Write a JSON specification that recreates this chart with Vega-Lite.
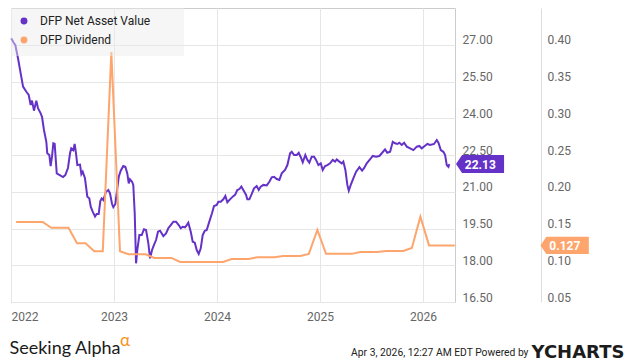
{
  "$schema": "https://vega.github.io/schema/vega-lite/v6.json",
  "width": 444,
  "height": 294,
  "autosize": {"type": "none"},
  "padding": {"left": 11, "top": 8, "right": 180, "bottom": 62},
  "background": "white",
  "title": {"text": "α", "orient": "top", "anchor": "start", "frame": "group", "offset": 0, "dx": 109, "dy": 355, "baseline": "alphabetic", "font": "Lato", "fontSize": 17, "fontWeight": "normal", "color": "#f7931e"},
  "config": {
    "view": {"stroke": "#cccccc", "strokeWidth": 1},
    "axis": {"labelFont": "Roboto", "labelFontSize": 12, "labelColor": "#666666", "gridColor": "#e6e6e6", "ticks": false, "tickSize": 0, "domain": false}
  },
  "datasets": {
    "nav": [
      {"year": 2022.003, "nav": 27.26}, {"year": 2022.029, "nav": 27.06}, {"year": 2022.042, "nav": 26.99}, {"year": 2022.068, "nav": 26.45},
      {"year": 2022.094, "nav": 25.83}, {"year": 2022.117, "nav": 25.29}, {"year": 2022.149, "nav": 25.08}, {"year": 2022.172, "nav": 24.95},
      {"year": 2022.191, "nav": 24.54}, {"year": 2022.204, "nav": 24.72}, {"year": 2022.223, "nav": 24.31}, {"year": 2022.246, "nav": 24.72},
      {"year": 2022.262, "nav": 24.41}, {"year": 2022.288, "nav": 24.20}, {"year": 2022.301, "nav": 24.06}, {"year": 2022.320, "nav": 23.52},
      {"year": 2022.343, "nav": 23.04}, {"year": 2022.352, "nav": 22.57}, {"year": 2022.372, "nav": 22.50}, {"year": 2022.385, "nav": 22.05},
      {"year": 2022.398, "nav": 22.43}, {"year": 2022.411, "nav": 22.98}, {"year": 2022.424, "nav": 22.95}, {"year": 2022.444, "nav": 21.75},
      {"year": 2022.473, "nav": 21.68}, {"year": 2022.505, "nav": 21.60}, {"year": 2022.527, "nav": 21.68}, {"year": 2022.553, "nav": 21.97},
      {"year": 2022.573, "nav": 22.57}, {"year": 2022.585, "nav": 22.77}, {"year": 2022.605, "nav": 22.70}, {"year": 2022.618, "nav": 22.95},
      {"year": 2022.631, "nav": 22.57}, {"year": 2022.644, "nav": 22.09}, {"year": 2022.670, "nav": 22.11}, {"year": 2022.683, "nav": 21.72},
      {"year": 2022.696, "nav": 21.82}, {"year": 2022.718, "nav": 21.55}, {"year": 2022.741, "nav": 20.80}, {"year": 2022.760, "nav": 20.73},
      {"year": 2022.774, "nav": 20.39}, {"year": 2022.793, "nav": 20.19}, {"year": 2022.816, "nav": 19.99}, {"year": 2022.832, "nav": 20.09},
      {"year": 2022.851, "nav": 20.09}, {"year": 2022.867, "nav": 20.62}, {"year": 2022.881, "nav": 20.73}, {"year": 2022.896, "nav": 20.66},
      {"year": 2022.922, "nav": 21.00}, {"year": 2022.945, "nav": 21.07}, {"year": 2022.961, "nav": 20.94}, {"year": 2022.981, "nav": 20.50},
      {"year": 2022.993, "nav": 20.37}, {"year": 2023.013, "nav": 20.50}, {"year": 2023.026, "nav": 20.94}, {"year": 2023.046, "nav": 21.61},
      {"year": 2023.065, "nav": 21.86}, {"year": 2023.090, "nav": 22.05}, {"year": 2023.110, "nav": 22.02}, {"year": 2023.129, "nav": 21.75},
      {"year": 2023.143, "nav": 21.34}, {"year": 2023.155, "nav": 21.51}, {"year": 2023.175, "nav": 21.41}, {"year": 2023.187, "nav": 21.28},
      {"year": 2023.201, "nav": 20.12}, {"year": 2023.214, "nav": 18.08}, {"year": 2023.226, "nav": 18.62}, {"year": 2023.246, "nav": 19.23},
      {"year": 2023.269, "nav": 19.23}, {"year": 2023.291, "nav": 19.47}, {"year": 2023.311, "nav": 19.44}, {"year": 2023.333, "nav": 18.90},
      {"year": 2023.350, "nav": 18.28}, {"year": 2023.369, "nav": 18.62}, {"year": 2023.388, "nav": 18.83}, {"year": 2023.408, "nav": 19.03},
      {"year": 2023.427, "nav": 19.37}, {"year": 2023.447, "nav": 19.41}, {"year": 2023.479, "nav": 19.19}, {"year": 2023.505, "nav": 19.30},
      {"year": 2023.527, "nav": 19.51}, {"year": 2023.551, "nav": 19.64}, {"year": 2023.576, "nav": 19.78}, {"year": 2023.602, "nav": 19.78},
      {"year": 2023.628, "nav": 19.64}, {"year": 2023.648, "nav": 19.51}, {"year": 2023.667, "nav": 19.57}, {"year": 2023.689, "nav": 19.55},
      {"year": 2023.706, "nav": 19.64}, {"year": 2023.721, "nav": 19.74}, {"year": 2023.745, "nav": 19.37}, {"year": 2023.764, "nav": 18.96},
      {"year": 2023.784, "nav": 18.92}, {"year": 2023.803, "nav": 18.62}, {"year": 2023.822, "nav": 18.46}, {"year": 2023.842, "nav": 18.69},
      {"year": 2023.861, "nav": 19.23}, {"year": 2023.881, "nav": 19.41}, {"year": 2023.900, "nav": 19.44}, {"year": 2023.925, "nav": 19.78},
      {"year": 2023.951, "nav": 20.12}, {"year": 2023.971, "nav": 20.42}, {"year": 2023.997, "nav": 20.46}, {"year": 2024.013, "nav": 20.59},
      {"year": 2024.036, "nav": 20.59}, {"year": 2024.061, "nav": 20.69}, {"year": 2024.081, "nav": 20.83}, {"year": 2024.100, "nav": 20.57},
      {"year": 2024.126, "nav": 20.69}, {"year": 2024.152, "nav": 20.80}, {"year": 2024.175, "nav": 20.87}, {"year": 2024.197, "nav": 21.07},
      {"year": 2024.217, "nav": 21.11}, {"year": 2024.236, "nav": 21.21}, {"year": 2024.255, "nav": 21.07}, {"year": 2024.282, "nav": 20.87},
      {"year": 2024.294, "nav": 20.69}, {"year": 2024.314, "nav": 20.69}, {"year": 2024.337, "nav": 20.91}, {"year": 2024.359, "nav": 21.14},
      {"year": 2024.385, "nav": 21.23}, {"year": 2024.405, "nav": 21.07}, {"year": 2024.424, "nav": 21.21}, {"year": 2024.450, "nav": 21.28},
      {"year": 2024.483, "nav": 21.26}, {"year": 2024.508, "nav": 21.41}, {"year": 2024.531, "nav": 21.59}, {"year": 2024.553, "nav": 21.61},
      {"year": 2024.580, "nav": 21.52}, {"year": 2024.605, "nav": 21.48}, {"year": 2024.628, "nav": 21.75}, {"year": 2024.660, "nav": 21.89},
      {"year": 2024.683, "nav": 22.09}, {"year": 2024.709, "nav": 22.57}, {"year": 2024.725, "nav": 22.63}, {"year": 2024.748, "nav": 22.50},
      {"year": 2024.774, "nav": 22.50}, {"year": 2024.793, "nav": 22.59}, {"year": 2024.813, "nav": 22.41}, {"year": 2024.832, "nav": 22.20},
      {"year": 2024.857, "nav": 22.50}, {"year": 2024.877, "nav": 22.30}, {"year": 2024.896, "nav": 22.19}, {"year": 2024.919, "nav": 22.43},
      {"year": 2024.942, "nav": 22.43}, {"year": 2024.961, "nav": 22.30}, {"year": 2024.984, "nav": 22.09}, {"year": 2025.007, "nav": 22.16},
      {"year": 2025.026, "nav": 21.89}, {"year": 2025.049, "nav": 22.05}, {"year": 2025.071, "nav": 22.09}, {"year": 2025.097, "nav": 22.16},
      {"year": 2025.123, "nav": 22.30}, {"year": 2025.146, "nav": 22.23}, {"year": 2025.162, "nav": 22.32}, {"year": 2025.187, "nav": 22.23},
      {"year": 2025.211, "nav": 22.16}, {"year": 2025.226, "nav": 22.23}, {"year": 2025.246, "nav": 21.89}, {"year": 2025.265, "nav": 21.28},
      {"year": 2025.279, "nav": 21.04}, {"year": 2025.298, "nav": 21.28}, {"year": 2025.323, "nav": 21.55}, {"year": 2025.350, "nav": 21.82},
      {"year": 2025.382, "nav": 22.00}, {"year": 2025.408, "nav": 21.86}, {"year": 2025.427, "nav": 21.96}, {"year": 2025.453, "nav": 22.16},
      {"year": 2025.485, "nav": 22.32}, {"year": 2025.512, "nav": 22.46}, {"year": 2025.544, "nav": 22.43}, {"year": 2025.576, "nav": 22.46},
      {"year": 2025.599, "nav": 22.57}, {"year": 2025.631, "nav": 22.73}, {"year": 2025.653, "nav": 22.59}, {"year": 2025.680, "nav": 22.63},
      {"year": 2025.706, "nav": 23.04}, {"year": 2025.728, "nav": 22.98}, {"year": 2025.751, "nav": 22.95}, {"year": 2025.770, "nav": 23.00},
      {"year": 2025.793, "nav": 22.91}, {"year": 2025.816, "nav": 23.00}, {"year": 2025.842, "nav": 22.84}, {"year": 2025.874, "nav": 22.77},
      {"year": 2025.906, "nav": 22.70}, {"year": 2025.939, "nav": 22.84}, {"year": 2025.964, "nav": 22.87}, {"year": 2025.987, "nav": 22.77},
      {"year": 2026.019, "nav": 22.88}, {"year": 2026.042, "nav": 22.95}, {"year": 2026.068, "nav": 22.91}, {"year": 2026.107, "nav": 22.95},
      {"year": 2026.133, "nav": 23.11}, {"year": 2026.150, "nav": 22.99}, {"year": 2026.172, "nav": 22.70}, {"year": 2026.197, "nav": 22.63},
      {"year": 2026.214, "nav": 22.50}, {"year": 2026.230, "nav": 22.09}, {"year": 2026.246, "nav": 22.02}, {"year": 2026.255, "nav": 22.13}
    ],
    "div": [
      {"year": 2022.050, "dividend": 0.159}, {"year": 2022.141, "dividend": 0.159}, {"year": 2022.224, "dividend": 0.159}, {"year": 2022.308, "dividend": 0.159},
      {"year": 2022.391, "dividend": 0.151}, {"year": 2022.474, "dividend": 0.151}, {"year": 2022.558, "dividend": 0.151}, {"year": 2022.641, "dividend": 0.130},
      {"year": 2022.724, "dividend": 0.130}, {"year": 2022.808, "dividend": 0.119}, {"year": 2022.891, "dividend": 0.119}, {"year": 2022.974, "dividend": 0.390},
      {"year": 2023.058, "dividend": 0.119}, {"year": 2023.141, "dividend": 0.115}, {"year": 2023.224, "dividend": 0.115}, {"year": 2023.308, "dividend": 0.115},
      {"year": 2023.391, "dividend": 0.110}, {"year": 2023.474, "dividend": 0.110}, {"year": 2023.558, "dividend": 0.110}, {"year": 2023.641, "dividend": 0.1045},
      {"year": 2023.724, "dividend": 0.1045}, {"year": 2023.808, "dividend": 0.1045}, {"year": 2023.891, "dividend": 0.1045}, {"year": 2023.974, "dividend": 0.1045},
      {"year": 2024.058, "dividend": 0.1045}, {"year": 2024.141, "dividend": 0.1085}, {"year": 2024.224, "dividend": 0.1085}, {"year": 2024.308, "dividend": 0.1085},
      {"year": 2024.391, "dividend": 0.111}, {"year": 2024.474, "dividend": 0.111}, {"year": 2024.558, "dividend": 0.111}, {"year": 2024.641, "dividend": 0.1125},
      {"year": 2024.724, "dividend": 0.1125}, {"year": 2024.808, "dividend": 0.1125}, {"year": 2024.891, "dividend": 0.1155}, {"year": 2024.974, "dividend": 0.148},
      {"year": 2025.058, "dividend": 0.1155}, {"year": 2025.141, "dividend": 0.1155}, {"year": 2025.224, "dividend": 0.1155}, {"year": 2025.308, "dividend": 0.1155},
      {"year": 2025.391, "dividend": 0.118}, {"year": 2025.474, "dividend": 0.118}, {"year": 2025.558, "dividend": 0.118}, {"year": 2025.641, "dividend": 0.1195},
      {"year": 2025.724, "dividend": 0.1195}, {"year": 2025.808, "dividend": 0.1195}, {"year": 2025.891, "dividend": 0.1235}, {"year": 2025.974, "dividend": 0.166},
      {"year": 2026.058, "dividend": 0.127}, {"year": 2026.141, "dividend": 0.127}, {"year": 2026.224, "dividend": 0.127}, {"year": 2026.308, "dividend": 0.127}
    ]
  },
  "layer": [
    {
      "layer": [
        {
          "data": {"name": "nav"},
          "mark": {"type": "line", "strokeWidth": 2},
          "encoding": {
            "x": {
              "field": "year", "type": "quantitative", "title": "Seeking Alpha",
              "scale": {"domain": [2022, 2026.31], "nice": false, "zero": false},
              "axis": {"values": [2022, 2023, 2024, 2025, 2026], "format": "d", "labelFlush": true, "labelPadding": 9, "grid": true,
                       "titleX": -2, "titleY": 51, "titleAlign": "left", "titleBaseline": "alphabetic", "titleFont": "Lato", "titleFontSize": 18, "titleFontWeight": "normal", "titleColor": "#1a1a1a"}
            },
            "y": {
              "field": "nav", "type": "quantitative", "title": "Apr 3, 2026, 12:27 AM EDT Powered by",
              "scale": {"domain": [16.5, 28.5], "nice": false, "zero": false},
              "axis": {"orient": "right", "values": [16.5, 18, 19.5, 21, 22.5, 24, 25.5, 27], "format": ".2f", "grid": true, "labelPadding": 7, "labelBaseline": "alphabetic", "labelOffset": -1,
                       "titleAngle": 0, "titleX": 73, "titleY": 347, "titleAlign": "right", "titleBaseline": "alphabetic", "titleFont": "Roboto", "titleFontSize": 10.3, "titleFontWeight": "normal", "titleColor": "#222222"}
            },
            "color": {
              "datum": "DFP Net Asset Value", "type": "nominal",
              "scale": {"domain": ["DFP Net Asset Value", "DFP Dividend"], "range": ["#6532C8", "#FDA56C"]},
              "legend": {"title": null, "orient": "top-left", "offset": 0, "padding": 7, "fillColor": "rgba(235,235,235,0.45)", "symbolType": "circle", "symbolSize": 11, "symbolStrokeWidth": 3.6,
                         "labelFont": "Roboto", "labelFontSize": 12, "labelColor": "#222222", "labelOffset": 10, "rowPadding": 1, "labelExpr": "datum.label + '\u00a0\u00a0\u00a0\u00a0\u00a0\u00a0\u00a0\u00a0\u00a0\u200b'"}
            }
          }
        },
        {
          "data": {"name": "nav"},
          "transform": [{"joinaggregate": [{"op": "max", "field": "year", "as": "ymax"}]}, {"filter": "datum.year === datum.ymax"}],
          "mark": {"type": "point", "shape": "M6.7,0L12.7,-9L54.7,-9L54.7,9L12.7,9Z", "size": 4, "filled": true, "opacity": 1, "color": "#6532C8", "strokeWidth": 0},
          "encoding": {
            "x": {"field": "year", "type": "quantitative", "title": "Seeking Alpha"},
            "y": {"field": "nav", "type": "quantitative", "title": "Apr 3, 2026, 12:27 AM EDT Powered by"}
          }
        },
        {
          "data": {"name": "nav"},
          "transform": [{"joinaggregate": [{"op": "max", "field": "year", "as": "ymax"}]}, {"filter": "datum.year === datum.ymax"}],
          "mark": {"type": "text", "dx": 31, "dy": 0.5, "align": "center", "baseline": "middle", "font": "Roboto", "fontSize": 12, "fontWeight": "bold", "color": "white"},
          "encoding": {
            "x": {"field": "year", "type": "quantitative", "title": "Seeking Alpha"},
            "y": {"field": "nav", "type": "quantitative", "title": "Apr 3, 2026, 12:27 AM EDT Powered by"},
            "text": {"field": "nav", "type": "quantitative", "format": ".2f"}
          }
        }
      ]
    },
    {
      "layer": [
        {
          "data": {"name": "div"},
          "mark": {"type": "line", "strokeWidth": 2},
          "encoding": {
            "x": {"field": "year", "type": "quantitative", "title": "Seeking Alpha"},
            "y": {
              "field": "dividend", "type": "quantitative", "title": "YCHARTS",
              "scale": {"domain": [0.05, 0.45], "nice": false, "zero": false},
              "axis": {"orient": "right", "offset": 86, "domain": true, "domainColor": "#dddddd", "values": [0.05, 0.1, 0.15, 0.2, 0.25, 0.3, 0.35, 0.4], "format": ".2f", "grid": false, "labelPadding": 6, "labelBaseline": "alphabetic", "labelOffset": -1,
                       "titleAngle": 0, "titleX": -10, "titleY": 349, "titleAlign": "left", "titleBaseline": "alphabetic", "titleFont": "DejaVu Sans", "titleFontSize": 18, "titleFontWeight": "bold", "titleColor": "#1c1c1c"}
            },
            "color": {"datum": "DFP Dividend", "type": "nominal"}
          }
        },
        {
          "data": {"name": "div"},
          "transform": [{"joinaggregate": [{"op": "max", "field": "year", "as": "ymax"}]}, {"filter": "datum.year === datum.ymax"}],
          "mark": {"type": "point", "shape": "M85.7,0L91.5,-8.7L134,-8.7L134,8.7L91.5,8.7Z", "size": 4, "filled": true, "opacity": 1, "color": "#FDA56C", "strokeWidth": 0},
          "encoding": {
            "x": {"field": "year", "type": "quantitative", "title": "Seeking Alpha"},
            "y": {"field": "dividend", "type": "quantitative", "title": "YCHARTS"}
          }
        },
        {
          "data": {"name": "div"},
          "transform": [{"joinaggregate": [{"op": "max", "field": "year", "as": "ymax"}]}, {"filter": "datum.year === datum.ymax"}],
          "mark": {"type": "text", "dx": 110, "dy": 0.5, "align": "center", "baseline": "middle", "font": "Roboto", "fontSize": 12, "fontWeight": "bold", "color": "white"},
          "encoding": {
            "x": {"field": "year", "type": "quantitative", "title": "Seeking Alpha"},
            "y": {"field": "dividend", "type": "quantitative", "title": "YCHARTS"},
            "text": {"field": "dividend", "type": "quantitative", "format": ".3f"}
          }
        }
      ]
    }
  ],
  "resolve": {"scale": {"y": "independent"}}
}
